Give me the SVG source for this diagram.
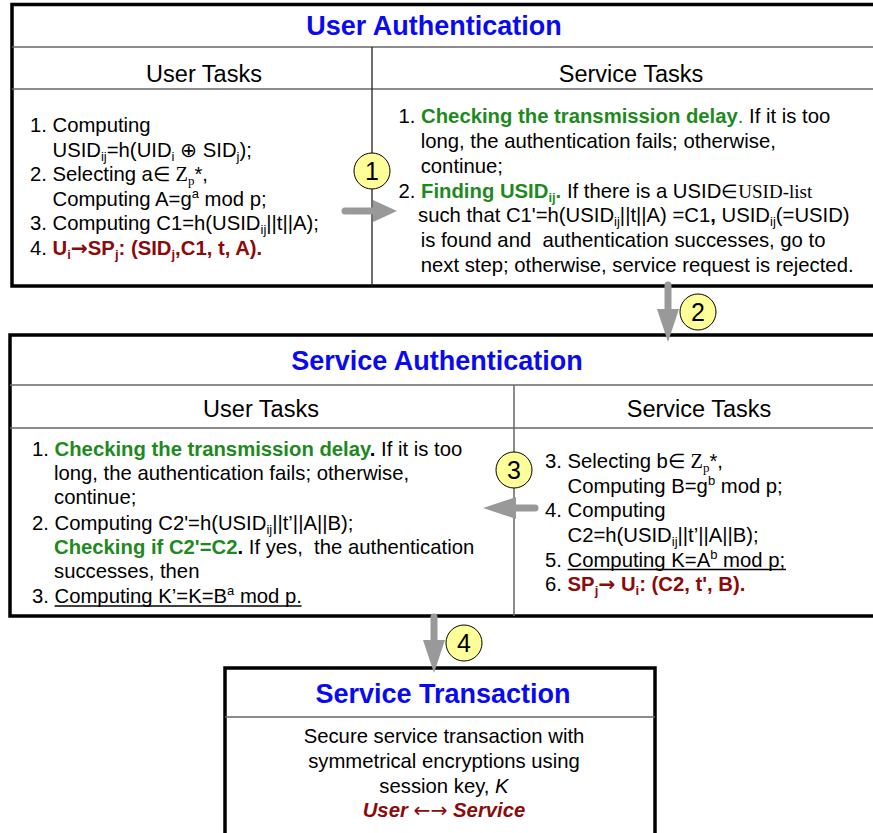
<svg xmlns="http://www.w3.org/2000/svg" width="873" height="833" viewBox="0 0 873 833">
<defs>
<style>
text{font-family:"Liberation Sans",Arial,sans-serif;font-size:20.3px;fill:#000}
.title{font-weight:bold;font-size:27px;fill:#0a0af0;text-anchor:middle}
.hdr{font-size:23.5px;text-anchor:middle}
.g{fill:#1e8a1e;font-weight:bold}
.r{fill:#8b0a0a;font-weight:bold}
.k{font-weight:bold}
.sub{font-size:13px;baseline-shift:-4px}
.sup{font-size:13px;baseline-shift:8px}
.serif{font-family:"Liberation Serif","Times New Roman",serif}
.ar{font-family:"DejaVu Sans",sans-serif}
.box{fill:#fff;stroke:#000;stroke-width:3.5}
.div{stroke:#666;stroke-width:1.5}
.col{stroke:#222;stroke-width:1.3}
.ul{stroke:#000;stroke-width:1.4}
.num{fill:#ffff99;stroke:#000;stroke-width:1}
.numt{font-size:25px;text-anchor:middle}
.arr{stroke:#999;stroke-width:7;stroke-linecap:round;fill:none}
.mid{text-anchor:middle}
</style>
<marker id="ahS" viewBox="0 0 24 22" markerWidth="24" markerHeight="22" refX="0" refY="11" orient="auto" markerUnits="userSpaceOnUse"><path d="M0,0 L24,11 L0,22 Z" fill="#999"/></marker>
<marker id="ahL" viewBox="0 0 33 22" markerWidth="33" markerHeight="22" refX="0" refY="11" orient="auto" markerUnits="userSpaceOnUse"><path d="M0,0 L33,11 L0,22 Z" fill="#999"/></marker>
</defs>
<rect width="873" height="833" fill="#fff"/>

<g id="user-authentication">
<rect class="box" x="12" y="4.5" width="875" height="281.5"/>
<line class="div" x1="12" y1="47" x2="873" y2="47"/>
<line class="div" x1="12" y1="89" x2="873" y2="89"/>
<line class="col" x1="372" y1="47" x2="372" y2="286"/>
<text class="title" x="434" y="35">User Authentication</text>
<text class="hdr" x="204" y="82">User Tasks</text>
<text class="hdr" x="631" y="82">Service Tasks</text>
<text x="30" y="132">1. Computing</text>
<text x="52.5" y="156.5">USID<tspan class="sub">ij</tspan>=h(UID<tspan class="sub">i</tspan> <tspan class="ar">⊕</tspan> SID<tspan class="sub">j</tspan>);</text>
<text x="30" y="181">2. Selecting a∈ <tspan class="serif">Z</tspan><tspan class="serif sub">p</tspan>*,</text>
<text x="52.5" y="205.5">Computing A=g<tspan class="sup">a</tspan> mod p;</text>
<text x="30" y="230">3. Computing C1=h(USID<tspan class="sub">ij</tspan>||t||A);</text>
<text x="30" y="254.5">4. <tspan class="r">U<tspan class="sub">i</tspan><tspan class="ar">→</tspan>SP<tspan class="sub">j</tspan>: (SID<tspan class="sub">j</tspan>,C1, t, A).</tspan></text>
<text x="398.5" y="123">1. <tspan class="g">Checking the transmission delay</tspan><tspan fill="#1e8a1e">.</tspan> If it is too</text>
<text x="420.7" y="148">long, the authentication fails; otherwise,</text>
<text x="420.7" y="172.5">continue;</text>
<text x="398.5" y="197.5">2. <tspan class="g">Finding USID<tspan class="sub">ij</tspan>.</tspan> If there is a USID<tspan class="serif" font-size="19px">∈USID-list</tspan></text>
<text x="418" y="222">such that C1'=h(USID<tspan class="sub">ij</tspan>||t||A) =C1<tspan class="k">,</tspan> USID<tspan class="sub">ij</tspan>(=USID)</text>
<text x="420.7" y="247">is found and&#160; authentication successes, go to</text>
<text x="420.7" y="271.5">next step; otherwise, service request is rejected.</text>
</g>

<g id="service-authentication">
<rect class="box" x="10" y="335" width="877" height="281"/>
<line class="div" x1="10" y1="385" x2="873" y2="385"/>
<line class="div" x1="10" y1="428" x2="873" y2="428"/>
<line class="div" x1="514" y1="385" x2="514" y2="616"/>
<text class="title" x="437" y="370">Service Authentication</text>
<text class="hdr" x="261" y="417">User Tasks</text>
<text class="hdr" x="699" y="417">Service Tasks</text>
<text x="32" y="455.5">1. <tspan class="g">Checking the transmission delay</tspan><tspan class="k">.</tspan> If it is too</text>
<text x="54" y="480">long, the authentication fails; otherwise,</text>
<text x="54" y="504">continue;</text>
<text x="32" y="529.5">2. Computing C2'=h(USID<tspan class="sub">ij</tspan>||t’||A||B);</text>
<text x="54" y="553.5"><tspan class="g">Checking if C2'=C2</tspan><tspan class="k">.</tspan> If yes,&#160; the authentication</text>
<text x="54" y="578">successes, then</text>
<text x="32" y="603">3. Computing K’=K=B<tspan class="sup">a</tspan> mod p.</text>
<line class="ul" x1="54.6" y1="606" x2="301.5" y2="606"/>
<text x="545" y="468">3. Selecting b∈ <tspan class="serif">Z</tspan><tspan class="serif sub">p</tspan>*,</text>
<text x="567.5" y="492.5">Computing B=g<tspan class="sup">b</tspan> mod p;</text>
<text x="545" y="517">4. Computing</text>
<text x="567.5" y="541.5">C2=h(USID<tspan class="sub">ij</tspan>||t’||A||B);</text>
<text x="545" y="566.5">5. Computing K=A<tspan class="sup">b</tspan> mod p;</text>
<line class="ul" x1="567.6" y1="569.5" x2="786" y2="569.5"/>
<text x="545" y="591">6. <tspan class="r">SP<tspan class="sub">j</tspan><tspan class="ar">→</tspan> U<tspan class="sub">i</tspan>: (C2, t', B).</tspan></text>
</g>

<g id="service-transaction">
<rect class="box" x="225" y="668" width="430" height="185"/>
<line class="div" x1="225" y1="717" x2="655" y2="717"/>
<text class="title" x="443" y="703">Service Transaction</text>
<text class="mid" x="444" y="743">Secure service transaction with</text>
<text class="mid" x="444" y="767.5">symmetrical encryptions using</text>
<text class="mid" x="444" y="792.5">session key, <tspan font-style="italic">K</tspan></text>
<text class="mid r" x="444" y="817" font-style="italic">User <tspan class="ar" font-weight="normal">←→</tspan> Service</text>
</g>

<g id="connectors">
<line class="arr" x1="345" y1="211" x2="373" y2="211" marker-end="url(#ahS)"/>
<line class="arr" x1="668" y1="285" x2="668" y2="309" marker-end="url(#ahL)"/>
<line class="arr" x1="535" y1="508" x2="516" y2="508" marker-end="url(#ahL)"/>
<line class="arr" x1="434" y1="617" x2="434" y2="640" marker-end="url(#ahL)"/>
<g id="step1"><circle class="num" cx="372" cy="171" r="18"/><text class="numt" x="372" y="180">1</text></g>
<g id="step2"><circle class="num" cx="698" cy="312" r="18"/><text class="numt" x="698" y="321">2</text></g>
<g id="step3"><circle class="num" cx="514" cy="470" r="18"/><text class="numt" x="514" y="479">3</text></g>
<g id="step4"><circle class="num" cx="464" cy="643" r="18"/><text class="numt" x="464" y="652">4</text></g>
</g>
</svg>
